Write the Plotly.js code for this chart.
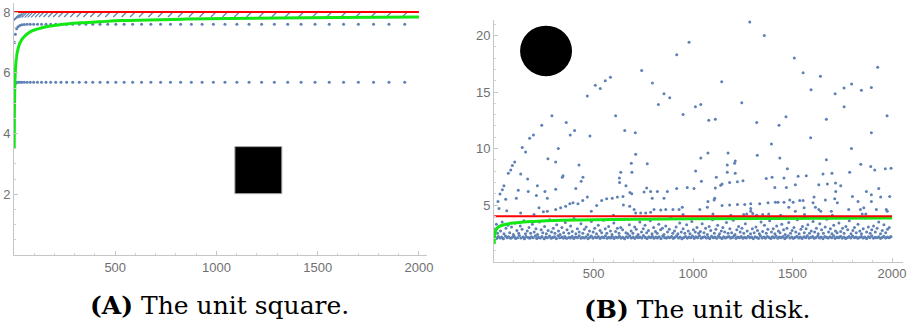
<!DOCTYPE html>
<html><head><meta charset="utf-8">
<script src="https://cdn.plot.ly/plotly-3.0.1.min.js"></script>
<style>html,body{margin:0;padding:0;background:#fff}#chart{width:912px;height:331px}</style>
</head><body><div id="chart"></div>
<script>
// ---------- Panel A : the unit square ----------
const sqN = [3,7,13,20,29,39,51,65,80,97,116,136,158,181,206,232,260,290,322,355,389,425,463,503,544,586,630,676,724,773,823,876,929,985,1042,1101,1161,1223,1286,1352,1418,1487,1557,1628,1701,1776,1852,1930];
const rowHighA = [7.0,7.27,7.45,7.52,7.56,7.58,7.59,7.6,7.6,7.6,7.6,7.6,7.6,7.6,7.6,7.6,7.6,7.6,7.6,7.6,7.6,7.6,7.6,7.6,7.6,7.6,7.6,7.6,7.6,7.6,7.6,7.6,7.6,7.6,7.6,7.6,7.6,7.6,7.6,7.6,7.6,7.6,7.6,7.6,7.6,7.6,7.6,7.6];
const rowLowA = [5.62,5.66,5.68,5.69,5.69,5.69,5.69,5.69,5.69,5.69,5.69,5.69,5.69,5.69,5.69,5.69,5.69,5.69,5.69,5.69,5.69,5.69,5.69,5.69,5.69,5.69,5.69,5.69,5.69,5.69,5.69,5.69,5.69,5.69,5.69,5.69,5.69,5.69,5.69,5.69,5.69,5.69,5.69,5.69,5.69,5.69,5.69,5.69];
const topRowA = [7.75,7.8,7.83,7.86,7.88,7.89,7.9,7.9,7.91,7.91,7.91,7.92,7.92,7.92,7.92,7.92,7.92,7.92,7.92,7.92,7.92,7.92,7.92,7.92,7.92,7.92,7.92,7.92,7.92,7.92,7.92,7.92,7.92,7.92,7.92,7.92,7.92,7.92,7.92,7.92,7.92,7.92,7.92,7.92,7.92,7.92,7.92,7.92];
const greenAN = [1,2,3,4,5,6,8,10,13,16,20,25,30,40,50,65,80,100,130,160,200,260,330,420,530,670,850,1050,1300,1600,2000];
const greenAV = [3.5,4.68,5.22,5.56,5.78,5.95,6.2,6.37,6.55,6.67,6.79,6.91,6.99,7.11,7.19,7.28,7.35,7.41,7.47,7.52,7.56,7.61,7.65,7.68,7.72,7.74,7.77,7.79,7.81,7.82,7.84];
const limitA = 8;

// ---------- Panel B : the unit disk ----------
const greenBN = [1,2,3,5,8,12,20,30,50,75,100,150,200,300,400,500,700,1000,1400,2000];
const greenBV = [1.55,2.0,2.25,2.5,2.72,2.87,3.02,3.13,3.25,3.35,3.41,3.5,3.55,3.62,3.67,3.7,3.74,3.78,3.81,3.84];
const limitB = 4;
const nRange = [1, 2000];

const bandX = [5,14,22,31,39,47,58,66,73,84,92,101,109,118,127,135,146,153,161,172,180,188,197,208,215,224,233,241,252,260,268,279,287,295,304,313,322,330,341,349,356,365,376,384,393,401,410,419,428,437,445,454,463,472,480,489,497,508,516,524,533,542,551,560,568,577,586,594,603,612,621,630,638,647,656,665,673,682,690,699,708,717,726,734,743,751,760,769,778,787,795,804,813,821,830,839,848,857,866,874,883,892,901,909,918,927,935,944,953,962,971,979,988,997,1006,1014,1023,1032,1041,1049,1058,1067,1076,1084,1093,1102,1110,1119,1128,1137,1146,1154,1163,1172,1181,1189,1198,1207,1216,1224,1233,1242,1251,1259,1268,1277,1286,1294,1303,1312,1321,1329,1338,1347,1356,1364,1373,1382,1391,1399,1408,1417,1426,1434,1443,1452,1461,1469,1478,1487,1496,1504,1513,1522,1531,1539,1548,1557,1566,1574,1583,1592,1601,1609,1618,1627,1636,1644,1653,1662,1671,1679,1688,1697,1706,1714,1723,1732,1741,1749,1758,1767,1776,1784,1793,1802,1811,1819,1828,1837,1846,1854,1863,1872,1881,1889,1898,1907,1916,1924,1933,1942,1951,1959,1968,1977,1986,1994];
const bandY = [2.12,2.05,2.2,2.08,2.15,2.02,2.25,2.1,2.18,2.06,2.14,2.22,2.04,2.1,2.3,2.08,2.16,2.02,2.2,2.12,2.06,2.18,2.1,2.26,2.04,2.14,2.08,2.2,2.02,2.16,2.1,2.24,2.06,2.12,2.18,2.03,2.28,2.1,2.15,2.07,2.2,2.05,2.13,2.09,2.22,2.04,2.16,2.11,2.26,2.06,2.14,2.08,2.19,2.03,2.12,2.24,2.07,2.15,2.1,2.2,2.05,2.17,2.11,2.28,2.06,2.13,2.09,2.21,2.04,2.16,2.1,2.23,2.07,2.14,2.02,2.19,2.12,2.26,2.08,2.15,2.05,2.2,2.11,2.17,2.08,2.29,2.13,2.04,2.18,2.1,2.22,2.06,2.15,2.09,2.19,2.03,2.25,2.12,2.07,2.16,2.1,2.21,2.05,2.14,2.27,2.08,2.17,2.02,2.12,2.2,2.07,2.15,2.1,2.24,2.05,2.18,2.11,2.28,2.06,2.14,2.19,2.08,2.13,2.03,2.22,2.1,2.16,2.06,2.25,2.12,2.04,2.18,2.09,2.15,2.21,2.07,2.13,2.26,2.05,2.17,2.11,2.2,2.06,2.14,2.08,2.23,2.1,2.16,2.03,2.19,2.12,2.05,2.27,2.09,2.15,2.07,2.21,2.13,2.04,2.18,2.1,2.24,2.06,2.16,2.11,2.2,2.03,2.14,2.28,2.08,2.17,2.05,2.13,2.22,2.09,2.15,2.04,2.19,2.11,2.26,2.07,2.14,2.2,2.06,2.12,2.25,2.09,2.16,2.03,2.21,2.13,2.08,2.18,2.1,2.27,2.05,2.15,2.11,2.22,2.07,2.16,2.04,2.12,2.2,2.08,2.24,2.1,2.17,2.06,2.14,2.21,2.09,2.15,2.03,2.19,2.12,2.26,2.07,2.13,2.1,2.18,2.05,2.14,2.22,2.08,2.16,2.11,2.2];

const midX = [3,8,12,18,25,33,41,50,60,70,79,88,97,106,115,124,132,141,150,158,167,176,184,193,202,211,219,228,237,245,254,263,272,280,289,298,306,315,324,332,341,350,358,367,376,385,393,402,411,419,428,437,446,454,463,472,480,489,498,506,515,524,533,541,550,559,567,576,585,593,602,611,620,628,637,646,654,663,672,680,689,698,707,715,724,733,741,750,759,767,776,785,794,802,811,820,828,837,846,854,863,872,881,889,898,907,915,924,933,941,950,959,968,976,985,994,1002,1011,1020,1028,1037,1046,1055,1063,1072,1081,1089,1098,1107,1115,1124,1133,1142,1150,1159,1168,1176,1185,1194,1202,1211,1220,1229,1237,1246,1255,1263,1272,1281,1289,1298,1307,1316,1324,1333,1342,1350,1359,1368,1376,1385,1394,1403,1411,1420,1429,1437,1446,1455,1463,1472,1481,1490,1498,1507,1516,1524,1533,1542,1550,1559,1568,1577,1585,1594,1603,1611,1620,1629,1637,1646,1655,1664,1672,1681,1690,1698,1707,1716,1724,1733,1742,1751,1759,1768,1777,1785,1794,1803,1811,1820,1829,1838,1846,1855,1864,1872,1881,1890,1898,1907,1916,1925,1933,1942,1951,1959,1968,1977,1986];
const midY = [2.6,2.9,3.3,2.5,3.1,2.7,3.5,2.45,2.95,3.2,2.55,3.05,2.4,3.4,2.75,2.5,3.15,2.85,3.6,2.45,2.7,3.0,2.5,3.3,2.6,2.9,2.4,3.5,2.8,2.55,3.1,2.45,2.75,3.7,2.6,2.95,2.5,3.25,2.7,2.4,3.0,2.55,3.45,2.8,2.5,3.15,2.65,3.8,2.45,2.9,2.6,3.35,2.5,2.85,3.05,2.4,2.7,3.55,2.6,2.95,2.45,3.2,2.75,2.55,3.65,2.9,2.5,3.1,2.7,2.4,3.4,2.65,2.95,2.5,3.0,2.8,3.75,2.55,2.45,3.25,2.7,2.5,3.05,2.85,2.4,3.5,2.6,2.9,3.2,2.55,2.75,3.6,2.45,3.0,2.65,2.5,3.3,2.8,2.95,2.4,3.15,2.6,2.85,3.85,2.5,2.7,3.05,2.45,3.4,2.6,2.9,2.5,3.25,2.7,2.45,3.55,2.8,2.6,3.0,2.5,2.65,3.35,2.55,2.95,2.4,3.1,2.75,3.7,2.5,2.85,3.2,2.45,2.7,3.0,2.6,3.45,2.5,2.9,2.55,3.65,2.4,2.8,3.1,2.6,2.95,2.5,3.35,2.7,3.8,2.45,2.9,2.55,3.05,2.75,2.45,3.5,2.65,3.2,2.5,2.85,3.6,2.6,2.9,2.45,3.15,2.7,2.55,3.3,2.8,2.4,2.95,3.45,2.5,2.75,3.0,2.6,3.7,2.45,2.85,3.1,2.55,2.9,3.25,2.5,2.7,3.55,2.6,2.95,2.45,3.35,2.8,2.5,3.05,3.75,2.6,2.9,2.45,3.2,2.7,2.55,3.4,2.65,2.95,2.5,3.1,2.8,3.6,2.45,2.75,3.0,2.55,3.3,2.7,2.45,2.9,3.85,2.6,3.05,2.5,2.8,3.15,2.6,2.95,3.5,2.45,2.75,3.25,2.55,2.85,3.0];

const sparseX = [980,918,742,796,854,883,826,1012,950,585,559,509,534,469,611,291,363,240,405,383,482,657,710,198,179,142,323,
 1285,1358,1509,1553,1640,1928,1144,1797,1759,1896,1846,1593,1714,1039,1245,1759,1079,1112,1320,1467,1432,1670,1975,1591,1896,1394,1796,
 159,104,84,72,92,50,42,30,59,20,25,64,122,112,134,169,172,271,310,347,343,218,256,213,268,310,427,447,438,411,469,446,422,397,381,360,335,310,268,248,226,201,134,489,516,541,566,594,620,648,637,630,631,690,693,712,663,683,692,650,682,704,770,754,767,787,795,821,854,871,918,971,1005,1013,838,863,899,930,946,737,762,787,804,712,
 1075,1176,1039,1323,1436,1670,1843,1893,1913,1966,1995,1172,1212,1209,1172,1212,1474,1528,1569,1653,1698,1787,1042,1112,1117,1139,1146,1184,1223,1251,1368,1397,1411,1457,1469,1514,1632,1675,1716,1717,1742,1871,1896,1933,1943,1988,1109,1106,1075,1072,1146,1184,1223,1260,1290,1290,1290,1335,1377,1414,1427,1457,1486,1503,1481,1514,1536,1553,1558,1608,1603,1615,1632,1642,1665,1695,1712,1725,1782,1801,1829,1841,1858,1868,1896,1921,1971,1976,1034,
 1255,1270,1300,1320,1350,1380,1440,1560,1700,1850,600,950,1100,1190];
const sparseY = [19.4,18.3,16.9,15.8,14.85,14.5,13.9,13.7,13.0,16.3,16.0,15.6,15.3,14.65,12.9,12.9,12.3,12.05,11.6,11.2,11.1,11.6,11.4,11.2,10.9,10.1,10.0,
 21.2,20.0,18.0,16.7,16.4,17.2,15.9,15.7,15.35,15.4,15.15,15.2,14.85,13.9,14.05,13.7,12.5,12.6,12.3,12.8,12.05,12.6,12.9,10.95,11.4,10.4,10.0,
 9.7,8.8,8.1,7.8,8.5,6.7,6.35,5.97,5.5,5.3,4.7,4.5,6.3,5.6,7.75,7.3,6.2,9.1,8.8,7.6,7.45,6.7,6.2,5.85,5.6,6.4,8.55,7.45,7.1,6.45,5.7,5.4,5.1,5.2,5.1,4.9,4.75,4.6,4.45,4.4,4.75,4.15,4.3,4.45,4.95,5.4,5.55,5.6,5.7,5.75,7.9,7.4,7.0,8.7,7.9,9.5,6.7,6.1,6.0,5.0,4.9,4.6,8.65,6.15,6.5,6.2,5.6,6.2,5.6,6.2,6.45,6.55,6.45,8.0,4.55,4.6,4.6,4.6,4.8,4.3,4.3,4.35,4.6,4.3,
 9.6,9.6,9.15,9.4,9.15,9.0,8.6,8.4,8.1,8.2,8.25,8.55,8.9,8.7,7.9,7.8,8.2,7.55,7.6,7.75,7.8,7.9,7.1,6.5,7.45,6.75,6.85,7.0,7.05,7.15,7.35,7.45,6.55,7.4,6.55,6.8,6.8,6.85,6.95,6.2,6.7,6.2,5.9,6.45,5.7,5.75,5.6,5.45,5.3,4.8,4.95,5.0,5.05,5.05,5.1,4.7,4.45,5.1,5.2,5.25,5.25,5.25,5.45,5.25,4.8,4.45,5.4,5.4,4.75,5.7,5.2,4.8,4.6,4.45,5.45,4.45,5.55,5.2,4.6,5.75,5.3,4.6,4.75,4.2,5.3,4.6,4.6,4.45,4.6,
 4.15,4.2,4.25,4.1,4.15,4.2,4.1,4.15,4.1,4.2,4.1,4.15,4.2,4.1];

const xTicks = [500,1000,1500,2000];
const yTicksA = [2,4,6,8];
const yTicksB = [5,10,15,20];
const captionA = '<b>(A)</b> The unit square.';
const captionB = '<b>(B)</b> The unit disk.';

// ---------- styles ----------
const BLUE = '#5e81b5', GREEN = '#14e814', RED = '#ff0000';
const dot = (s) => ({color: BLUE, size: s});

const traces = [
  {x: sqN, y: rowLowA, xaxis:'x', yaxis:'y', mode:'markers', marker: dot(3), type:'scatter'},
  {x: sqN, y: rowHighA, xaxis:'x', yaxis:'y', mode:'markers', marker: dot(3), type:'scatter'},
  {x: sqN, y: topRowA, xaxis:'x', yaxis:'y', mode:'markers', type:'scatter',
   marker:{symbol:'line-ne', size:5, color:BLUE, line:{color:BLUE, width:1.2}}},
  {x: greenAN, y: greenAV, xaxis:'x', yaxis:'y', mode:'lines', line:{color:GREEN, width:3, shape:'spline'}, type:'scatter'},
  {x: nRange, y: [limitA, limitA], xaxis:'x', yaxis:'y', mode:'lines', line:{color:RED, width:2}, type:'scatter'},

  {x: bandX, y: bandY, xaxis:'x2', yaxis:'y2', mode:'markers', marker: dot(3.2), type:'scatter'},
  {x: midX, y: midY, xaxis:'x2', yaxis:'y2', mode:'markers', marker: dot(3), type:'scatter'},
  {x: sparseX, y: sparseY, xaxis:'x2', yaxis:'y2', mode:'markers', marker: dot(3), type:'scatter'},
  {x: greenBN, y: greenBV, xaxis:'x2', yaxis:'y2', mode:'lines', line:{color:GREEN, width:3, shape:'spline'}, type:'scatter'},
  {x: nRange, y: [limitB, limitB], xaxis:'x2', yaxis:'y2', mode:'lines', line:{color:RED, width:2}, type:'scatter'}
];

const axBase = {
  showline:true, linecolor:'#c6c6c6', linewidth:1, showgrid:false, zeroline:false,
  ticks:'inside', ticklen:4, tickwidth:1, tickcolor:'#c6c6c6', automargin:false,
  tickfont:{family:'Liberation Sans, Arial, sans-serif', size:13, color:'#707070'},
  tickmode:'array', fixedrange:true
};

const layout = {
  width:912, height:331, margin:{l:0,r:0,t:0,b:0},
  paper_bgcolor:'#ffffff', plot_bgcolor:'#ffffff', showlegend:false,
  xaxis: Object.assign({}, axBase, {domain:[14/912, 427/912], range:[0,2040], anchor:'y', tickvals:xTicks,
    minor:{tickmode:'linear', tick0:0, dtick:100, ticklen:2, tickcolor:'#d2d2d2', ticks:'inside', showgrid:false}}),
  yaxis: Object.assign({}, axBase, {domain:[(331-255)/331, (331-3)/331], range:[0,8.3], anchor:'x', tickvals:yTicksA,
    minor:{tickmode:'linear', tick0:0, dtick:0.5, ticklen:2, tickcolor:'#d2d2d2', ticks:'inside', showgrid:false}}),
  xaxis2: Object.assign({}, axBase, {domain:[494/912, 903/912], range:[0,2055], anchor:'y2', tickvals:xTicks,
    minor:{tickmode:'linear', tick0:0, dtick:100, ticklen:2, tickcolor:'#d2d2d2', ticks:'inside', showgrid:false}}),
  yaxis2: Object.assign({}, axBase, {domain:[(331-261.5)/331, (331-19.7)/331], range:[0,21.4], anchor:'x2', tickvals:yTicksB,
    minor:{tickmode:'linear', tick0:0, dtick:1, ticklen:2, tickcolor:'#d2d2d2', ticks:'inside', showgrid:false}}),
  shapes:[
    {type:'rect', xref:'x', yref:'y', x0:1091, x1:1323, y0:2.02, y1:3.57, fillcolor:'#000000', line:{color:'#aaaaaa', width:1}, layer:'above'},
    {type:'circle', xref:'x2', yref:'y2', x0:131, x1:392, y0:16.4, y1:20.87, fillcolor:'#000000', line:{color:'#000000', width:0}, layer:'above'}
  ],
  annotations:[
    {text:captionA, xref:'paper', yref:'paper', x:219.5/912, y:1-305/331, xanchor:'center', yanchor:'middle', showarrow:false,
     font:{family:'DejaVu Serif, serif', size:25, color:'#000'}},
    {text:captionB, xref:'paper', yref:'paper', x:697/912, y:1-309.5/331, xanchor:'center', yanchor:'middle', showarrow:false,
     font:{family:'DejaVu Serif, serif', size:25, color:'#000'}}
  ]
};

Plotly.newPlot('chart', traces, layout, {staticPlot:true, displayModeBar:false});
</script></body></html>
